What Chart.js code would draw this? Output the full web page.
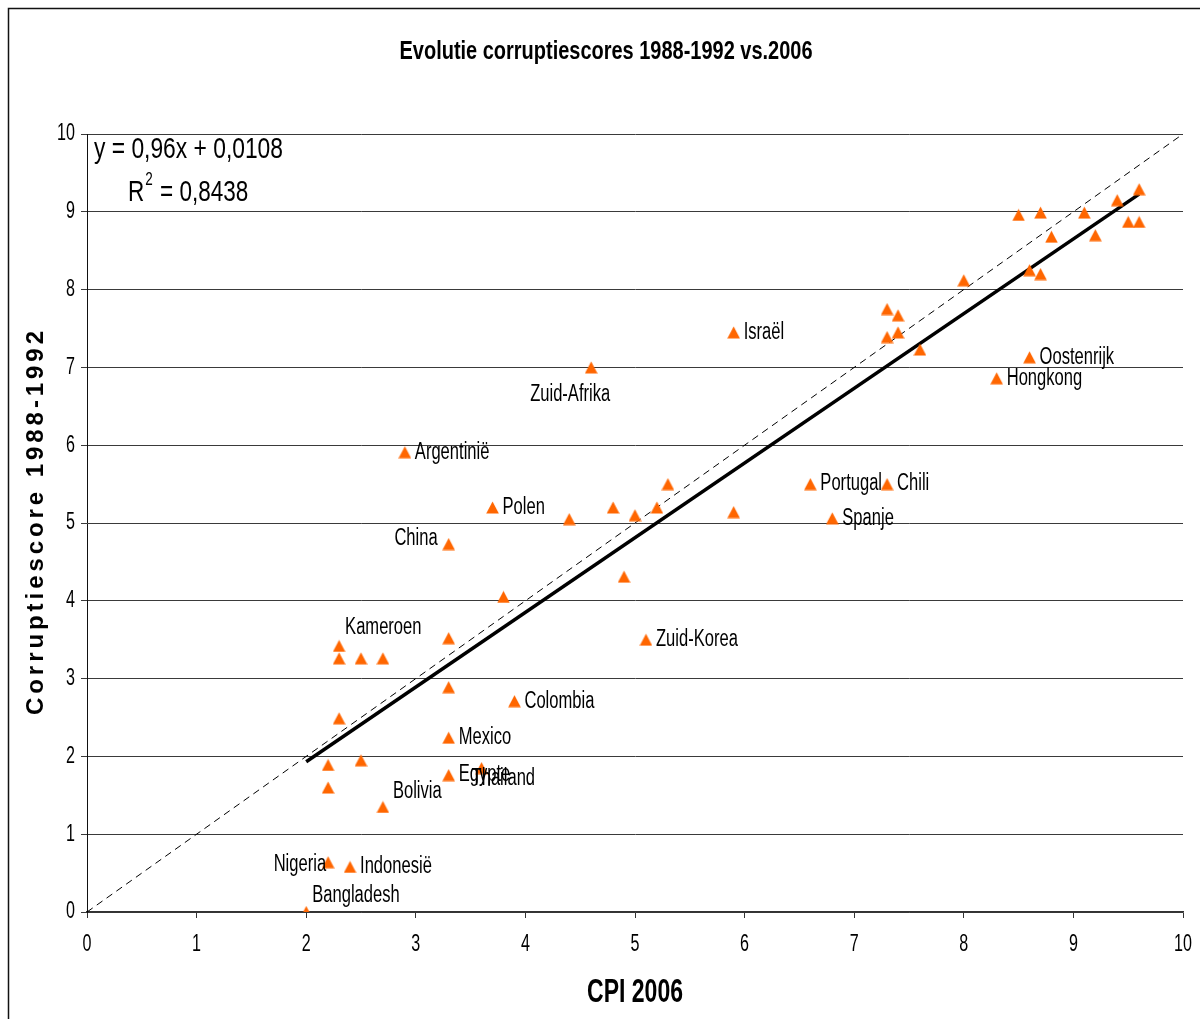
<!DOCTYPE html>
<html>
<head>
<meta charset="utf-8">
<script src="https://cdn.jsdelivr.net/npm/chart.js@4.4.1/dist/chart.umd.min.js"></script>
<style>
html, body { margin: 0; padding: 0; background: #fff; }
#wrap { width: 1200px; height: 1019px; position: relative; }
</style>
</head>
<body>
<div id="wrap"><canvas id="chart" width="1200" height="1019"></canvas></div>
<script>
// landen (leeg = geen label)
const countries = [
    '', '', '', '', '', '', '', '', '', '', '', '',
    '', '', '', '', '',
    'Israël', 'Zuid-Afrika', 'Oostenrijk', 'Hongkong', 'Argentinië', 'Polen',
    '', '', '', '', '', '',
    'Portugal', 'Chili', 'Spanje', 'China', '', '', 'Zuid-Korea', '',
    'Kameroen', '', '', '', '', 'Colombia', '', 'Mexico', '', '',
    'Egypte', 'Thailand', '', 'Bolivia', 'Nigeria', 'Indonesië', 'Bangladesh'
];
// CPI 2006 (x)
const cpi2006 = [
    9.6, 9.4, 8.5, 8.7, 9.1, 9.5, 9.6, 8.8, 9.2, 8.0, 8.6, 8.7,
    7.3, 7.4, 7.3, 7.4, 7.6,
    5.9, 4.6, 8.6, 8.3, 2.9, 3.7,
    4.4, 4.8, 5.0, 5.2, 5.3, 5.9,
    6.6, 7.3, 6.8, 3.3, 4.9, 3.8, 5.1, 3.3,
    2.3, 2.3, 2.5, 2.7, 3.3, 3.9, 2.3, 3.3, 2.2, 2.5,
    3.3, 3.6, 2.2, 2.7, 2.2, 2.4, 2.0
];
// corruptiescore 1988-1992 (y)
const score8892 = [
    9.29, 9.15, 8.96, 8.99, 8.99, 8.87, 8.87, 8.68, 8.70, 8.12, 8.25, 8.20,
    7.75, 7.67, 7.39, 7.45, 7.23,
    7.45, 7.00, 7.13, 6.86, 5.91, 5.20,
    5.05, 5.20, 5.10, 5.20, 5.50, 5.14,
    5.50, 5.50, 5.06, 4.73, 4.31, 4.05, 3.50, 3.52,
    3.42, 3.26, 3.26, 3.26, 2.89, 2.71, 2.49, 2.24, 1.89, 1.95,
    1.76, 1.85, 1.60, 1.35, 0.64, 0.58, 0.00
];
const xTicks = [0, 1, 2, 3, 4, 5, 6, 7, 8, 9, 10];
const yTicks = [0, 1, 2, 3, 4, 5, 6, 7, 8, 9, 10];

// lineaire trendlijn (Excel)
const trendSlope = 0.96;
const trendIntercept = 0.0108;
const equationText = 'y = 0,96x + 0,0108';
const r2Text = ' = 0,8438';

// label plaatsing: [dx, dy, align]
const labelPlacement = {
    'Zuid-Afrika': [-21, 27, 'center'],
    'China': [-11, -5, 'right'],
    'Kameroen': [6, -18, 'left'],
    'Thailand': [-10, 11, 'left'],
    'Bolivia': [10, -15, 'left'],
    'Nigeria': [-2, 2, 'right'],
    'Bangladesh': [6, -16, 'left']
};

const SANS = '"Liberation Sans", Arial, sans-serif';
const NARROW_SCALE = 0.72;   // smalle, hoge letters zoals in het origineel
const ORANGE = '#FF6600';

// smalle tekst: horizontaal geschaalde Liberation Sans
function drawNarrow(ctx, text, x, y, font, align, scaleX) {
    ctx.save();
    ctx.font = font;
    ctx.textAlign = 'left';
    ctx.textBaseline = 'middle';
    const w = ctx.measureText(text).width * scaleX;
    let left = x;
    if (align === 'center') left = x - w / 2;
    if (align === 'right') left = x - w;
    ctx.translate(left, y);
    ctx.scale(scaleX, 1);
    ctx.fillText(text, 0, 0);
    ctx.restore();
    return w;
}

// tekst passend maken op een breedte
function drawFit(ctx, text, x, y, font, width, align) {
    ctx.save();
    ctx.font = font;
    const sx = width / ctx.measureText(text).width;
    ctx.restore();
    return drawNarrow(ctx, text, x, y, font, align, sx);
}

// driehoek marker zoals Excel
function makeTriangle() {
    const c = document.createElement('canvas');
    c.width = 13;
    c.height = 13;
    const g = c.getContext('2d');
    g.fillStyle = ORANGE;
    g.beginPath();
    g.moveTo(6.5, 0.5);
    g.lineTo(12.8, 12.5);
    g.lineTo(0.2, 12.5);
    g.closePath();
    g.fill();
    return c;
}

const points = cpi2006.map((x, i) => ({ x: x, y: score8892[i] }));
const xMin = Math.min(...cpi2006);
const xMax = Math.max(...cpi2006);
const trendData = [
    { x: xMin, y: trendSlope * xMin + trendIntercept },
    { x: xMax, y: trendSlope * xMax + trendIntercept }
];
const diagData = [{ x: 0, y: 0 }, { x: 10, y: 10 }];

const decorPlugin = {
    id: 'decor',
    beforeDraw(chart) {
        const ctx = chart.ctx;
        ctx.save();
        ctx.fillStyle = '#fff';
        ctx.fillRect(0, 0, chart.width, chart.height);
        ctx.restore();
    },
    afterDraw(chart) {
        const ctx = chart.ctx;
        const area = chart.chartArea;
        const xs = chart.scales.x;
        const ys = chart.scales.y;
        ctx.save();

        // kader
        ctx.strokeStyle = '#111';
        ctx.lineWidth = 1.5;
        ctx.beginPath();
        ctx.moveTo(8.5, 1019);
        ctx.lineTo(8.5, 8.5);
        ctx.lineTo(1200, 8.5);
        ctx.stroke();

        ctx.fillStyle = '#000';

        // as-labels
        const tickFont = '23px ' + SANS;
        xTicks.forEach(v => {
            drawNarrow(ctx, String(v), xs.getPixelForValue(v), 945, tickFont, 'center', 0.7);
        });
        yTicks.forEach(v => {
            drawNarrow(ctx, String(v), area.left - 12, ys.getPixelForValue(v), tickFont, 'right', 0.7);
        });

        // titel
        drawFit(ctx, 'Evolutie corruptiescores 1988-1992 vs.2006', 606, 52, 'bold 25px ' + SANS, 413, 'center');

        // x-as titel
        drawFit(ctx, 'CPI 2006', 635, 993, 'bold 33px ' + SANS, 96, 'center');

        // y-as titel met letterafstand
        const yTitle = 'Corruptiescore 1988-1992';
        ctx.font = 'bold 24px ' + SANS;
        ctx.textBaseline = 'middle';
        const targetLen = 384;
        const chars = yTitle.split('');
        const widths = chars.map(ch => ctx.measureText(ch).width);
        const raw = widths.reduce((a, b) => a + b, 0);
        const spacing = (targetLen - raw) / (chars.length - 1);
        ctx.translate(36, (area.top + area.bottom) / 2);
        ctx.rotate(-Math.PI / 2);
        ctx.textAlign = 'left';
        let pos = -targetLen / 2;
        chars.forEach((ch, i) => {
            ctx.fillText(ch, pos, 0);
            pos += widths[i] + spacing;
        });
        ctx.setTransform(1, 0, 0, 1, 0, 0);

        // vergelijking en R²
        const eqFont = '30px ' + SANS;
        drawFit(ctx, equationText, 94, 150, eqFont, 189, 'left');
        let px = 128;
        px += drawNarrow(ctx, 'R', px, 193, eqFont, 'left', 0.75);
        px += drawNarrow(ctx, '2', px + 1, 180, '18px ' + SANS, 'left', 0.75) + 2;
        drawNarrow(ctx, r2Text, px, 193, eqFont, 'left', 0.75);

        ctx.restore();
    },
    afterDatasetsDraw(chart) {
        const ctx = chart.ctx;
        const meta = chart.getDatasetMeta(0);
        ctx.save();
        ctx.fillStyle = '#000';
        meta.data.forEach((el, i) => {
            const name = countries[i];
            if (!name) return;
            const p = labelPlacement[name] || [10, 0, 'left'];
            drawNarrow(ctx, name, el.x + p[0], el.y + p[1], '23px ' + SANS, p[2], NARROW_SCALE);
        });
        ctx.restore();
    }
};

const chart = new Chart(document.getElementById('chart'), {
    type: 'scatter',
    data: {
        datasets: [
            {
                label: 'landen',
                data: points,
                pointStyle: makeTriangle(),
                pointRadius: 6,
                pointHoverRadius: 6,
                backgroundColor: ORANGE,
                borderColor: ORANGE,
                order: 0
            },
            {
                type: 'line',
                label: 'trend',
                data: trendData,
                borderColor: '#000',
                borderWidth: 3.5,
                pointRadius: 0,
                fill: false,
                order: 1
            },
            {
                type: 'line',
                label: 'y=x',
                data: diagData,
                borderColor: '#000',
                borderWidth: 1,
                borderDash: [7, 5],
                pointRadius: 0,
                fill: false,
                order: 2
            }
        ]
    },
    options: {
        responsive: false,
        animation: false,
        events: [],
        layout: { padding: { top: 134, right: 17, left: 0, bottom: 0 } },
        plugins: {
            legend: { display: false },
            tooltip: { enabled: false },
            title: { display: false }
        },
        scales: {
            x: {
                type: 'linear',
                min: 0,
                max: 10,
                afterBuildTicks: axis => { axis.ticks = xTicks.map(v => ({ value: v })); },
                afterFit: axis => { axis.height = 107; },
                grid: {
                    drawOnChartArea: false,
                    drawTicks: true,
                    tickLength: 6,
                    color: '#333',
                    lineWidth: 1
                },
                border: { color: '#333', width: 1.5 },
                ticks: { display: false }
            },
            y: {
                type: 'linear',
                min: 0,
                max: 10,
                afterBuildTicks: axis => { axis.ticks = yTicks.map(v => ({ value: v })); },
                afterFit: axis => { axis.width = 87; },
                grid: {
                    drawOnChartArea: true,
                    drawTicks: true,
                    tickLength: 6,
                    color: '#3a3a3a',
                    lineWidth: 1
                },
                border: { color: '#111', width: 1 },
                ticks: { display: false }
            }
        }
    },
    plugins: [decorPlugin]
});
</script>
</body>
</html>
